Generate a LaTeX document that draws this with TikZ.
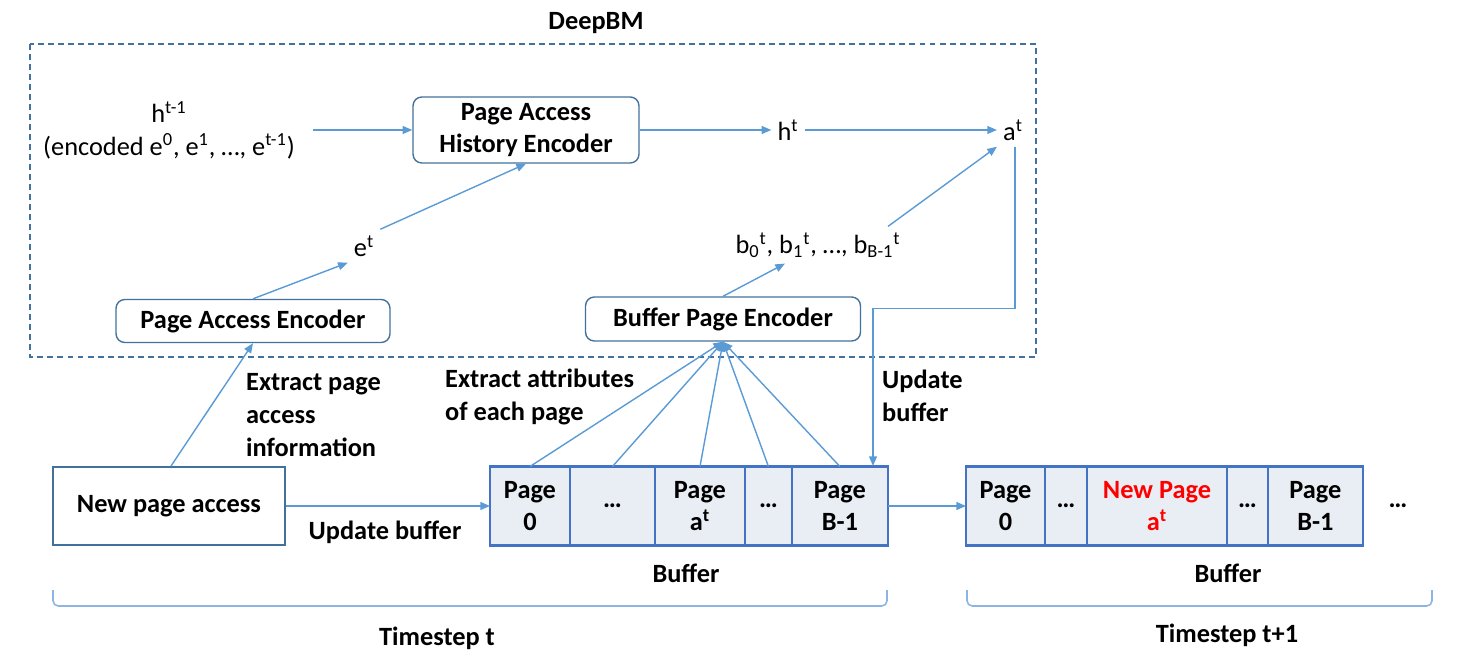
\documentclass[tikz,border=0pt]{standalone}
\usepackage{fontspec}
\setmainfont{Carlito}
\usetikzlibrary{arrows.meta,positioning}
\definecolor{arrblue}{HTML}{5B9BD5}
\definecolor{boxblue}{HTML}{41719C}
\definecolor{bufblue}{HTML}{4472C4}
\definecolor{buffill}{HTML}{E9EDF4}
\definecolor{brackblue}{HTML}{8EB4E3}
\newcommand{\figfont}{\fontsize{15}{18.7}\selectfont}
\tikzset{
    arr/.style={-{Triangle[length=5.5pt,width=4.5pt]}, draw=arrblue, line width=0.8pt},
    bold/.style={font=\figfont\bfseries},
    encbox/.style={draw=boxblue, rounded corners=5pt, line width=0.8pt, bold, align=center},
    cell/.style={draw=bufblue, fill=buffill, line width=1.2pt, outer sep=0pt, minimum height=1.58cm, bold, align=center, inner sep=1pt},
    lbl/.style={bold, align=left, anchor=west},
    brack/.style={draw=brackblue, line width=0.9pt, rounded corners=3pt}
}
\begin{document}
\begin{tikzpicture}[x=0.02cm, y=-0.02cm, font=\figfont]
    \useasboundingbox (0,0) rectangle (1457,665);

    % DeepBM part
    \draw[boxblue, dashed, line width=1pt, dash pattern=on 3.4pt off 2.3pt] (30,44) rectangle (1036,357);
    \node[bold] (deepbm) at (596,23) {DeepBM};

    \node[align=center] (hprev) at (169,130) {h\textsuperscript{t-1}\\(encoded e\textsuperscript{0}, e\textsuperscript{1}, …, e\textsuperscript{t-1})};
    \node[encbox, minimum width=4.52cm, minimum height=1.32cm] (pahe) at (526,130) {Page Access\\History Encoder};
    \node (h) at (788,130) {h\textsuperscript{t}};
    \node (at) at (1013,130) {a\textsuperscript{t}};
    \node (e) at (364,246) {e\textsuperscript{t}};
    \node[encbox, minimum width=5.48cm, minimum height=0.86cm] (pae) at (253,321) {Page Access Encoder};
    \node (b) at (818,245) {b\textsubscript{0}\textsuperscript{t}, b\textsubscript{1}\textsuperscript{t}, …, b\textsubscript{B-1}\textsuperscript{t}};
    \node[encbox, minimum width=5.5cm, minimum height=0.88cm] (bpe) at (723,319) {Buffer Page Encoder};

    \draw[arr] (hprev.east |- pahe.west) ++(12,0) -- (pahe.west);
    \draw[arr] (pahe) -- (h);
    \draw[arr] (h) -- (at);
    \draw[arr] (pae.north) -- (e.south west);
    \draw[arr] (e.north east) -- (pahe.south);
    \draw[arr] (bpe.north) -- ([xshift=-0.66cm]b.south);
    \draw[arr] ([xshift=1.4cm]b.north) -- (at.south west);

    % timestep t
    \node[draw=boxblue, line width=1.1pt, minimum width=4.64cm, minimum height=1.56cm, bold] (npa) at (169,506) {New page access};

    \node[cell, minimum width=1.6cm, anchor=west] (c0) at (490,506) {Page\\0};
    \node[cell, minimum width=1.7cm, right=0pt of c0] (c1) {…};
    \node[cell, minimum width=1.8cm, right=0pt of c1] (c2) {Page\\a\textsuperscript{t}};
    \node[cell, minimum width=0.94cm, right=0pt of c2] (c3) {…};
    \node[cell, minimum width=1.92cm, right=0pt of c3] (c4) {Page\\B-1};
    \node[bold] (buf) at (686,573) {Buffer};

    \draw[arr] (npa) -- (c0);
    \draw[arr] (npa.north) ++(2,0) -- (pae.south);
    \foreach \c in {c0,c1,c2,c3,c4}
        \draw[arr] (\c.north) -- (bpe.south);

    \coordinate (upd) at (873,466);
    \draw[arr] (at.south) ++(2,0) -- ++(0,162) -| (upd);

    \node[lbl] (lext) at (240,415) {Extract page\\access\\information};
    \node[lbl] (lattr) at (439,397) {Extract attributes\\of each page};
    \node[lbl] (lupd) at (876,396) {Update\\buffer};
    \node[bold] (lupd2) at (385,532) {Update buffer};

    \draw[brack] (53,590) |- (887,606) -- (887,590);
    \node[bold] (ts) at (437,638) {Timestep t};

    % timestep t+1
    \node[cell, minimum width=1.58cm, anchor=west] (d0) at (966,506) {Page\\0};
    \node[cell, minimum width=0.84cm, right=0pt of d0] (d1) {…};
    \node[cell, minimum width=2.8cm, right=0pt of d1, text=red] (d2) {New Page\\a\textsuperscript{t}};
    \node[cell, minimum width=0.82cm, right=0pt of d2] (d3) {…};
    \node[cell, minimum width=1.9cm, right=0pt of d3] (d4) {Page\\B-1};
    \node[bold] (more) at (1398,506) {…};
    \node[bold] (buf2) at (1228,573) {Buffer};

    \draw[arr] (c4) -- (d0);

    \draw[brack] (967,590) |- (1432,606) -- (1432,590);
    \node[bold] (ts2) at (1227,635) {Timestep t+1};
\end{tikzpicture}
\end{document}
